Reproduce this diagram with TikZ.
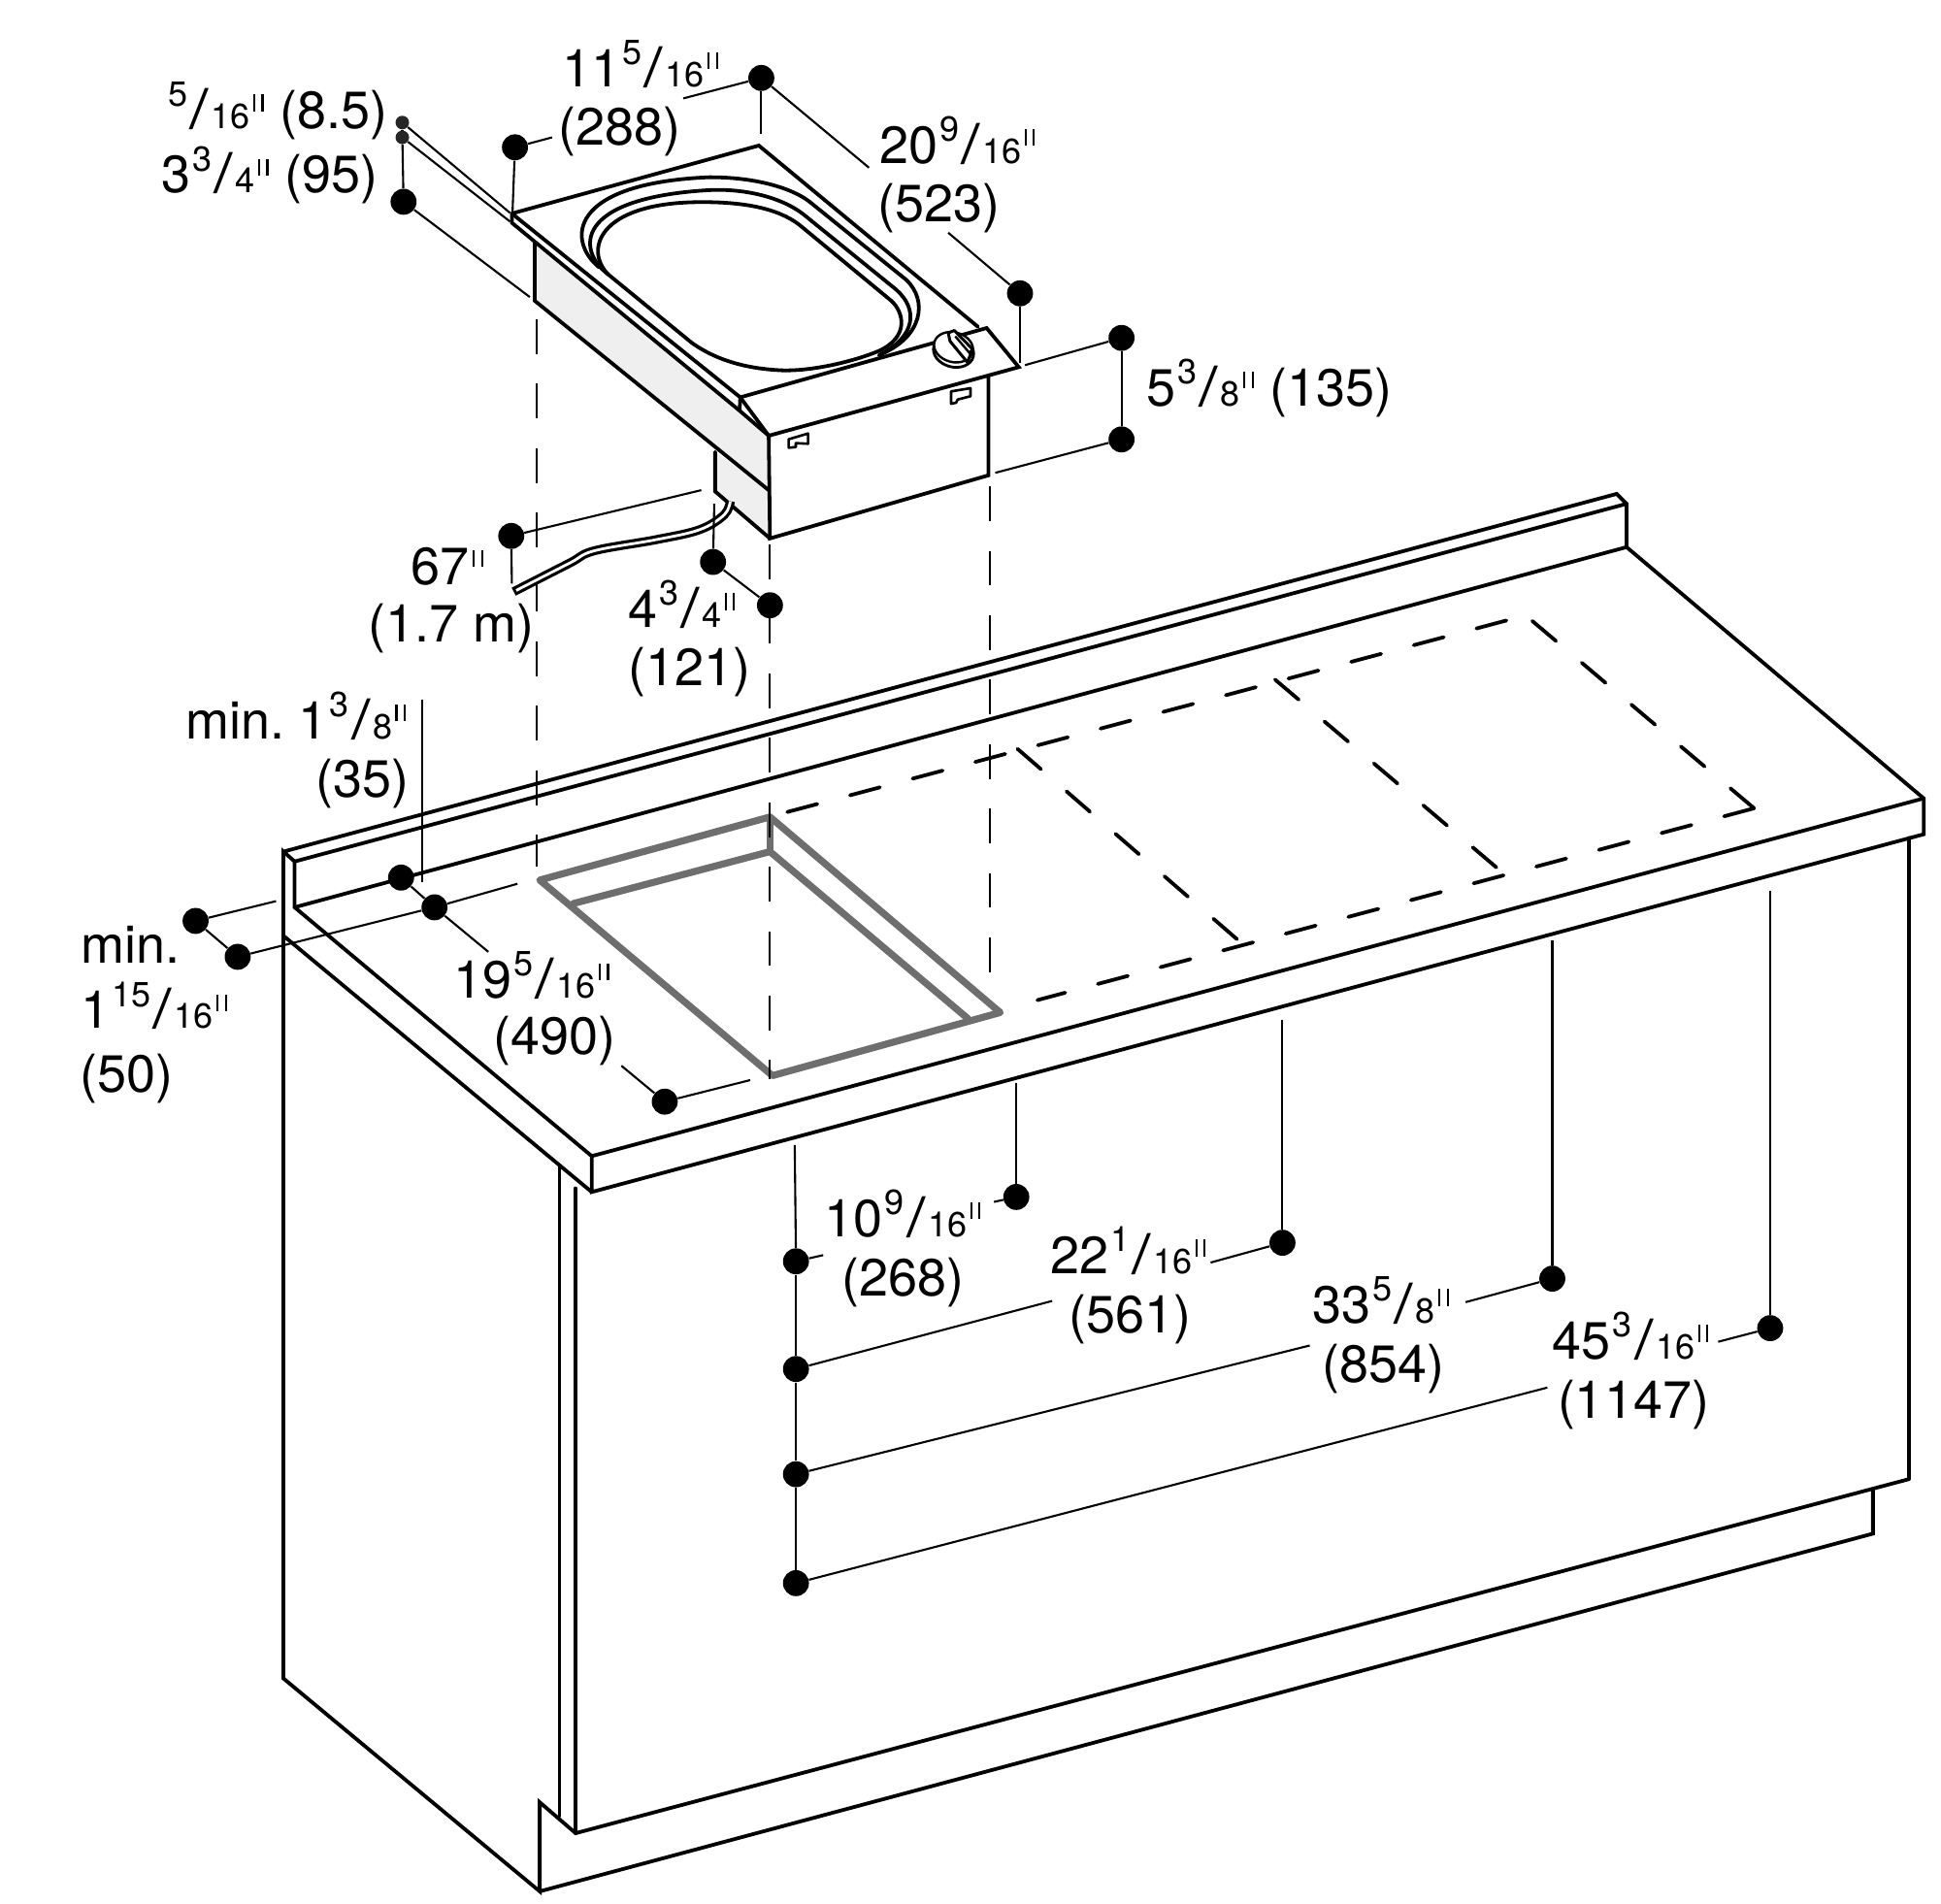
\documentclass[tikz,border=0pt]{standalone}
\usepackage{fontspec}
\setmainfont{TeX Gyre Heros}
\newcommand\qmark{\kern1.6pt\rule[9pt]{1.1pt}{8.6pt}\kern3.2pt\rule[9pt]{1.1pt}{8.6pt}}
\newcommand\dimfr[3]{#1\kern1pt\raisebox{.42em}{\fontsize{18}{18}\selectfont #2}\kern1.2pt\scalebox{1.3}[1.05]{/}\kern1.2pt{\fontsize{18}{18}\selectfont #3}\qmark}
\tikzset{
  x=.63776pt,y=-.63776pt,
  ln/.style={line width=1.9pt,line join=miter,line cap=round},
  leader/.style={line width=1.05pt},
  proj/.style={line width=1.05pt,dash pattern=on 17.9pt off 15.3pt},
  hobd/.style={line width=1.9pt,line cap=round,dash pattern=on 16pt off 17.4pt},
  cut/.style={line width=3.6pt,draw=cutgrey,line join=round,line cap=round},
  dot/.style={circle,fill=black,inner sep=0pt,minimum size=13.4pt},
  dots/.style={circle,fill=black!85,inner sep=0pt,minimum size=7pt},
  lbl/.style={anchor=base west,inner sep=0pt,font=\fontsize{27}{27}\selectfont},
  panel/.style={fill=panelgrey,draw=none},
}
\definecolor{cutgrey}{HTML}{6E6E6E}
\definecolor{panelgrey}{HTML}{EFEFEF}
\begin{document}
\begin{tikzpicture}
\useasboundingbox (0,0) rectangle (1568,1538);
% ---- counter and cabinet
\draw[ln] (229,688) -- (1306,399) -- (1314,407) -- (1314,442) -- (1554,645) -- (1554,674) -- (478,963) -- (478,934) -- (238,733) -- (238,696) -- (229,688) -- (229,1356) -- (436,1528) -- (436,1456) -- (465,1481) -- (1542,1195);
\draw[ln] (238,696) -- (1314,407);
\draw[ln] (238,733) -- (1314,442);
\draw[ln] (478,934) -- (1554,645);
\draw[ln] (229,756) -- (478,963);
\draw[ln] (452,942) -- (452,1467);
\draw[ln] (465,960) -- (465,1481);
\draw[ln] (1542,677) -- (1542,1195);
\draw[ln] (436,1528) -- (1513,1239) -- (1513,1203);
% ---- dashed hob positions
\coordinate (hc) at (1417,653);
\draw[hobd] (636,656) -- (1218,501);
\draw[hobd] (hc) -- (1237,501);
\draw[hobd] (hc) -- (838,808);
\draw[hobd] (822,605) -- (1003,762);
\draw[hobd] (1030,549) -- (1215,706);
% ---- cut-out
\draw[cut] (436,711) -- (622,660) -- (808,818) -- (624,869) -- cycle;
\draw[cut] (463,730) -- (622,688) -- (782,823);
\draw[cut] (622,660) -- (622,688);
% ---- projection lines
\draw[proj] (433.5,258) -- (433.5,700);
\draw[proj] (622,440) -- (622,872);
\draw[proj] (800,393) -- (800,786);
% ---- appliance
\fill[panel] (432,196) -- (597.5,331.8) -- (621,352) -- (621,396) -- (432,243) -- cycle;
\fill[panel] (577.7,365) -- (621,396) -- (621,435) -- (577.7,397) -- cycle;
\draw[ln] (432,196) -- (432,243) -- (621,396);
\draw[ln] (577.7,365) -- (577.7,397) -- (622,435);
\draw[ln] (413.5,172.5) -- (613,117.6) -- (790,264);
\draw[ln] (413.5,172.5) -- (598,321);
\draw[ln] (413.5,172.5) -- (413.5,180) -- (597.5,331.8) -- (621,352);
\draw[ln] (598,321) -- (797,265) -- (823,296.6) -- (621,352) -- (622,435) -- (798.5,384) -- (798.5,304);
\draw[ln] (598,321) -- (597.5,331.8);
\draw[ln] (598,321) -- (621,352);
% burner rings
\draw[ln] (491.7,222) .. controls (472,203) and (482,164) .. (564.5,163.3) .. controls (600,163) and (628,168) .. (645.7,181.6) -- (720,243) .. controls (730,252) and (735,272) .. (710,283.5) .. controls (695,290) and (660,300) .. (631.7,299.2) .. controls (605,298) and (580,292) .. (558.9,277) -- cycle;
\draw[ln] (491.7,222) .. controls (466,203) and (462,160) .. (572.9,153.6) .. controls (605,152) and (635,161) .. (651.3,175) -- (724,234) .. controls (742,250) and (740,272) .. (710,287);
\draw[ln] (484,216) .. controls (458,195) and (458,148) .. (572.9,143.2) .. controls (610,143) and (640,152) .. (654,163) -- (732,226) .. controls (750,243) and (745,272) .. (712,286);
% knob
\draw[line width=1.4pt,fill=white] (770.3,284) ellipse [x radius=16.5,y radius=12.5,rotate=-15];
\draw[line width=1.2pt,fill=white] (770.3,280.5) ellipse [x radius=16,y radius=12,rotate=-15];
\draw[line width=1.5pt,fill=white,line join=round] (767.5,275.7) -- (766,269) -- (770.9,267) -- (785.7,282.2) -- (781.5,292.7) -- cycle;
\draw[line width=1.2pt] (771.7,271.7) -- (782.9,284.8) -- (785.7,282.2);
% handles
\draw[line width=1.3pt,line join=round] (768.3,316.2) -- (784,313.6) -- (784,320.1) -- (773.6,322.8) -- (772.3,325.4) -- (768.3,326.2) -- cycle;
\draw[line width=1.3pt,line join=round] (637.1,354.9) -- (652.8,350.2) -- (652.8,358.5) -- (642.9,358) -- (642.9,361.2) -- (637.1,361.7) -- cycle;
% cable
\draw[line width=4.6pt,line cap=butt] plot[smooth,tension=.6] coordinates {(590,405) (585,416) (565,428) (530,436) (480,445) (460,455) (415,478)};
\draw[line width=1.4pt,white] plot[smooth,tension=.6] coordinates {(590,405) (585,416) (565,428) (530,436) (480,445) (460,455) (417,477)};
% ---- dots
\foreach \n/\x/\y in {d3/326/163,d4/416/119,d5/615/63,d6/824/237,d7/906/273,d8/906/355,d9/413/433,d10/576/454,d11/622/489,d12/324/709,d13/351/733,d14/158/744,d15/192/773,d16/537/890,d17/821/967,d18/1036/1004,d19/1254/1033,d20/1430/1073,d21/643/1019,d22/643/1106,d23/643/1191,d24/643/1279}
  {\node[dot] (\n) at (\x,\y) {};}
\node[dots] (d1) at (325,99) {};
\node[dots] (d2) at (325,111) {};
% ---- free ends of the leaders
\foreach \n/\x/\y in {e1/412/172,e2/412/179,e3/428/240,e4/414/172,e5/446/111,e6/552/79.5,e7/615/108,e8/702/135.5,e9/766/188,e10/824/293,e11/828/295,e12/804/382,e13/566.5/396,e14/413.5/471.5,e15/577/407,e16/341/565,e16b/341/713,e17/394.5/769,e18/418/714,e19/223/728,e20/502/861,e21/606/872.6,e22/821/875,e23/803/971,e24/1036/824,e25/978/1020,e26/1254/760,e27/1184/1052,e28/1430/720,e29/1388/1084,e30/642/925,e31/665/1014,e32/850/1051,e33/1058/1087,e34/1250/1121}
  {\coordinate (\n) at (\x,\y);}
% ---- leaders
\draw[leader] (d1) -- (e1);
\draw[leader] (d2) -- (e2);
\draw[leader] (d1) -- (d2);
\draw[leader] (d2) -- (d3);
\draw[leader] (d3) -- (e3);
\draw[leader] (d4) -- (e4);
\draw[leader] (d4) -- (e5);
\draw[leader] (d5) -- (e6);
\draw[leader] (d5) -- (e7);
\draw[leader] (d5) -- (e8);
\draw[leader] (d6) -- (e9);
\draw[leader] (d6) -- (e10);
\draw[leader] (d7) -- (d8);
\draw[leader] (d7) -- (e11);
\draw[leader] (d8) -- (e12);
\draw[leader] (d9) -- (e13);
\draw[leader] (d9) -- (e14);
\draw[leader] (d10) -- (e15);
\draw[leader] (d10) -- (d11);
\draw[leader] (e16) -- (e16b);
\draw[leader] (d12) -- (d13);
\draw[leader] (d13) -- (e17);
\draw[leader] (d13) -- (e18);
\draw[leader] (d13) -- (d15);
\draw[leader] (d14) -- (d15);
\draw[leader] (d14) -- (e19);
\draw[leader] (d16) -- (e20);
\draw[leader] (d16) -- (e21);
\draw[leader] (d17) -- (e22);
\draw[leader] (d17) -- (e23);
\draw[leader] (d18) -- (e24);
\draw[leader] (d18) -- (e25);
\draw[leader] (d19) -- (e26);
\draw[leader] (d19) -- (e27);
\draw[leader] (d20) -- (e28);
\draw[leader] (d20) -- (e29);
\draw[leader] (d21) -- (e30);
\draw[leader] (d21) -- (d22);
\draw[leader] (d22) -- (d23);
\draw[leader] (d23) -- (d24);
\draw[leader] (d21) -- (e31);
\draw[leader] (d22) -- (e32);
\draw[leader] (d23) -- (e33);
\draw[leader] (d24) -- (e34);
% ---- labels
\begin{scope}[shift={(-1,-1)}]
\node[lbl] (t1) at (135,105) {\dimfr{}{5}{16} \kern1pt(8.5)};
\node[lbl] (t2) at (131,157) {\dimfr{3}{3}{4} \kern1pt(95)};
\node[lbl] (t3) at (455,71) {\dimfr{11}{5}{16}};
\node[lbl] (t4) at (452,118) {(288)};
\node[lbl] (t5) at (711,133) {\dimfr{20}{9}{16}};
\node[lbl] (t6) at (710,180) {(523)};
\node[lbl] (t7) at (927,329) {\dimfr{5}{3}{8} \kern1pt(135)};
\node[lbl] (t8) at (333,473) {67\qmark};
\node[lbl] (t9) at (298,520) {(1.7 m)};
\node[lbl] (t10) at (508,508) {\dimfr{4}{3}{4}};
\node[lbl] (t11) at (508,555) {(121)};
\node[lbl] (t12) at (151,598) {min.\kern-3pt{} \dimfr{1}{3}{8}};
\node[lbl] (t13) at (256,645) {(35)};
\node[lbl] (t14) at (66,779) {min.};
\node[lbl] (t15) at (66,832) {\dimfr{1}{15}{16}};
\node[lbl] (t16) at (65,883) {(50)};
\node[lbl] (t17) at (367,807) {\dimfr{19}{5}{16}};
\node[lbl] (t18) at (399,853) {(490)};
\node[lbl] (t19) at (667,1000) {\dimfr{10}{9}{16}};
\node[lbl] (t20) at (681,1048) {(268)};
\node[lbl] (t21) at (849,1030) {\dimfr{22}{1}{16}};
\node[lbl] (t22) at (864,1078) {(561)};
\node[lbl] (t23) at (1061,1070) {\dimfr{33}{5}{8}};
\node[lbl] (t24) at (1069,1118) {(854)};
\node[lbl] (t25) at (1255,1099) {\dimfr{45}{3}{16}};
\node[lbl] (t26) at (1259,1147) {(1147)};
\end{scope}
\end{tikzpicture}
\end{document}
